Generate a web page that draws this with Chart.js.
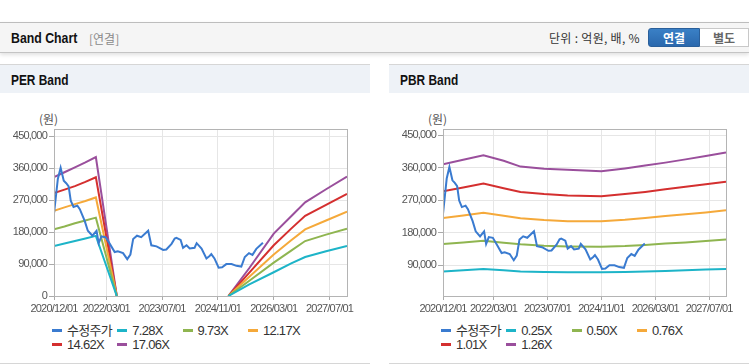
<!DOCTYPE html>
<html>
<head>
<meta charset="utf-8">
<script src="https://cdn.jsdelivr.net/npm/chart.js@4.4.1/dist/chart.umd.min.js"></script>
<style>
  body { margin: 0; background: #fff; font-family: "Liberation Sans", "Noto Sans CJK KR", sans-serif; }
  #wrap { position: relative; width: 749px; height: 364px; overflow: hidden; }
  #hdr { position: absolute; left: 0; top: 22px; width: 749px; height: 29px; background: #f5f5f5;
         border-top: 1px solid #bdbdbd; border-bottom: 1px solid #c4c4c4; box-shadow: 0 2px 4px rgba(0,0,0,0.12); }
  .sq { display: inline-block; transform-origin: 0 50%; }
  #hdr .ttl { position: absolute; left: 11px; top: 6px; font-size: 15px; font-weight: bold; color: #111; transform: scaleX(0.82); }
  #hdr .sub { position: absolute; left: 89px; top: 7px; font-size: 12px; color: #8a8a8a; font-family: "Noto Sans CJK KR", sans-serif; }
  #hdr .unit { position: absolute; left: 549px; top: 6px; font-size: 12px; color: #333; letter-spacing: 0.3px; font-family: "Noto Sans CJK KR", sans-serif; }
  .btn { position: absolute; top: 5px; height: 19px; line-height: 17px; text-align: center; font-size: 12px; font-weight: bold;
         font-family: "Noto Sans CJK KR", sans-serif; box-sizing: border-box; }
  .btn.on { left: 648px; width: 52px; background: linear-gradient(#3a80c6, #2a68ad); color: #fff; border-radius: 3px 0 0 3px; border: 1px solid #2a5f9a; }
  .btn.off { left: 700px; width: 49px; background: #fff; color: #666; border: 1px solid #c8c8c8; border-left: none; }
  .panel { position: absolute; top: 64px; height: 298px; background: #fff; border-top: 1px solid #d6d6d6; border-bottom: 1px solid #d6d6d6; }
  .ph { height: 28px; background: #eef2f7; padding-left: 11px; }
  .ph span { font-size: 14px; font-weight: bold; color: #111; line-height: 31px; transform: scaleX(0.85); }
  .won { position: absolute; left: 39px; top: 45px; font-size: 12px; color: #555; font-family: "Noto Sans CJK KR", sans-serif; }
  canvas { position: absolute; left: 0; top: 55px; }
  .lg { position: absolute; font-size: 13px; color: #333; white-space: nowrap; height: 14px; line-height: 14px; letter-spacing: -0.7px; }
  .lg i { display: inline-block; width: 10px; height: 3px; vertical-align: middle; margin-right: 5px; margin-top: -2px; }
</style>
</head>
<body>
<div id="wrap">
  <div id="hdr">
    <span class="ttl sq">Band Chart</span>
    <span class="sub">[연결]</span>
    <span class="unit">단위 : 억원, 배, %</span>
    <div class="btn on">연결</div>
    <div class="btn off">별도</div>
  </div>
  <div class="panel" style="left:0;width:370px">
    <div class="ph"><span class="sq">PER Band</span></div>
    <div class="won">(원)</div>
    <canvas id="per" width="370" height="196"></canvas>
    <div id="perLegend"></div>
  </div>
  <div class="panel" style="left:389px;width:360px">
    <div class="ph"><span class="sq">PBR Band</span></div>
    <div class="won">(원)</div>
    <canvas id="pbr" width="360" height="196"></canvas>
    <div id="pbrLegend"></div>
  </div>
</div>
<script>
// x values are months counted from 2020/12/01
const xTickMonths = [0, 15, 31, 47, 63, 79];
const xTickLabels = ["2020/12/01", "2022/03/01", "2023/07/01", "2024/11/01", "2026/03/01", "2027/07/01"];

// 수정주가 (adjusted price)
const priceMonths = [0, 1.1, 1.9, 2.8, 3.5, 4.2, 4.8, 5.6, 6.7, 7.4, 8.8, 9.7, 11, 12.2, 12.8, 13.6, 14.8, 16, 17.4, 18.3,
  19.8, 21, 21.9, 22.7, 23.8, 25, 27, 27.9, 29.4, 31.3, 32.2, 33.7, 34.6, 35.1, 36.3, 37, 38, 38.9, 40.3, 40.9,
  42.3, 43.7, 44.6, 45.1, 46, 47.2, 48.2, 49.4, 50.9, 52.3, 53.7, 54.7, 55.9, 56.9, 58, 59.9];
const priceValues = [232000, 330000, 362000, 325000, 318000, 309000, 269000, 251000, 255000, 245000, 212000, 184000, 170000,
  184000, 149000, 168000, 166000, 147000, 124000, 126000, 121000, 104000, 117000, 161000, 170000, 166000, 184000,
  143000, 140000, 130000, 131000, 147000, 162000, 164000, 158000, 136000, 143000, 134000, 136000, 149000, 134000,
  106000, 113000, 118000, 106000, 80000, 81000, 90000, 90000, 85000, 83000, 110000, 121000, 116000, 133000, 150000];

// PER bands (null = no value)
const perMonths = [0, 3, 6, 9, 12, 18, 34, 50, 56, 63, 68, 72, 78, 84];
const per728 = [141000, 148000, 155000, 162000, 169500, 0, null, 0, 33000, 67000, 92000, 110000, 126000, 141000];
const per973 = [188500, 196000, 205000, 213000, 221000, 0, null, 0, 43000, 94000, 128000, 155000, 173000, 190000];
const per1217 = [240000, 250000, 259000, 268000, 278000, 0, null, 0, 54000, 117000, 157000, 188000, 213000, 238000];
const per1462 = [290000, 300000, 310000, 322000, 335000, 0, null, 0, 66000, 143000, 190000, 226000, 257000, 288000];
const per1706 = [335000, 349000, 363000, 377000, 392000, 0, null, 0, 79000, 176000, 225000, 264000, 301000, 337000];

// PBR bands
const pbrMonths = [0, 6, 12, 18, 23, 30, 37, 47, 54, 60, 66, 72, 78, 84];
const pbr025 = [73000, 76000, 79500, 76000, 73000, 71500, 70500, 70500, 71500, 73000, 74500, 76500, 78000, 79500];
const pbr050 = [149000, 153000, 158000, 152000, 148000, 144000, 142000, 141000, 143000, 146000, 150000, 153000, 157000, 161000];
const pbr076 = [221000, 228000, 235000, 227000, 220000, 215000, 212000, 212000, 216000, 221000, 226000, 231000, 236000, 242000];
const pbr101 = [295000, 305000, 316000, 303000, 293000, 287000, 283000, 281000, 287000, 293000, 300000, 307000, 314000, 321000];
const pbr126 = [369500, 382000, 394500, 379000, 363000, 357000, 354000, 350000, 358000, 366000, 374000, 383000, 392000, 402000];

const perLabels = ["수정주가", "7.28X", "9.73X", "12.17X", "14.62X", "17.06X"];
const pbrLabels = ["수정주가", "0.25X", "0.50X", "0.76X", "1.01X", "1.26X"];
const colors = ["#3a7bd0", "#1db4c8", "#8fb550", "#f5a93a", "#d42f2f", "#9a4f9c"];

const yTicksPer = [0, 90000, 180000, 270000, 360000, 450000];
const yTicksPbr = [90000, 180000, 270000, 360000, 450000];

function pts(xs, ys) {
  return xs.map((x, i) => ({ x: x, y: ys[i] }));
}

const tickFont = { family: "'Liberation Sans', sans-serif", size: 11 };

// squeeze tick text a little, the original uses a narrow face
const narrowText = {
  id: "narrowText",
  beforeDraw(chart) { chart.ctx.letterSpacing = "-0.8px"; },
  afterDraw(chart) {
    const a = chart.chartArea, ctx = chart.ctx;
    ctx.save();
    ctx.strokeStyle = "#b4b4b4";
    ctx.lineWidth = 1;
    ctx.strokeRect(Math.round(a.left) + 0.5, Math.round(a.top) + 0.5, Math.round(a.right - a.left), Math.round(a.bottom - a.top));
    ctx.restore();
  }
};

function makeChart(id, labels, bandMonths, bands, yMin, yMax, yTicks) {
  const datasets = [{ data: pts(priceMonths, priceValues) }];
  bands.forEach(b => datasets.push({ data: pts(bandMonths, b) }));
  datasets.forEach((d, i) => {
    d.label = labels[i];
    d.borderColor = colors[i];
    d.backgroundColor = colors[i];
    d.borderWidth = 2;
    d.pointRadius = 0;
    d.tension = 0;
    d.spanGaps = false;
  });
  return new Chart(document.getElementById(id), {
    type: "line",
    data: { datasets: datasets },
    options: {
      responsive: false,
      animation: false,
      layout: { padding: { top: 9, right: 23, left: 0, bottom: 0 } },
      plugins: { legend: { display: false }, tooltip: { enabled: false } },
      scales: {
        x: {
          type: "linear", min: 0, max: 84,
          afterBuildTicks: ax => { ax.ticks = xTickMonths.map(v => ({ value: v })); },
          afterFit: ax => { ax.height = 20; },
          ticks: { font: tickFont, color: "#555", padding: 2, maxRotation: 0, autoSkip: false,
                   callback: v => xTickLabels[xTickMonths.indexOf(v)] },
          grid: { color: "#e6e6e6", tickColor: "#aaa", tickLength: 4 },
          border: { color: "#a8a8a8" }
        },
        y: {
          min: yMin, max: yMax,
          afterBuildTicks: ax => { ax.ticks = yTicks.map(v => ({ value: v })); },
          afterFit: ax => { ax.width = 54; },
          ticks: { font: tickFont, color: "#555", padding: 2, callback: v => v.toLocaleString("en-US") },
          grid: { color: "#e6e6e6", tickColor: "#aaa", tickLength: 5 },
          border: { color: "#a8a8a8" }
        }
      }
    },
    plugins: [narrowText]
  });
}

makeChart("per", perLabels, perMonths, [per728, per973, per1217, per1462, per1706], 0, 471000, yTicksPer);
makeChart("pbr", pbrLabels, pbrMonths, [pbr025, pbr050, pbr076, pbr101, pbr126], 5000, 467000, yTicksPbr);

function legend(id, labels) {
  const box = document.getElementById(id);
  labels.forEach((t, i) => {
    const d = document.createElement("div");
    d.className = "lg";
    d.style.left = (52 + (i % 4) * 65.3) + "px";
    d.style.top = (259 + Math.floor(i / 4) * 14) + "px";
    d.innerHTML = '<i style="background:' + colors[i] + '"></i>' + t;
    box.appendChild(d);
  });
}
legend("perLegend", perLabels);
legend("pbrLegend", pbrLabels);
</script>
</body>
</html>
